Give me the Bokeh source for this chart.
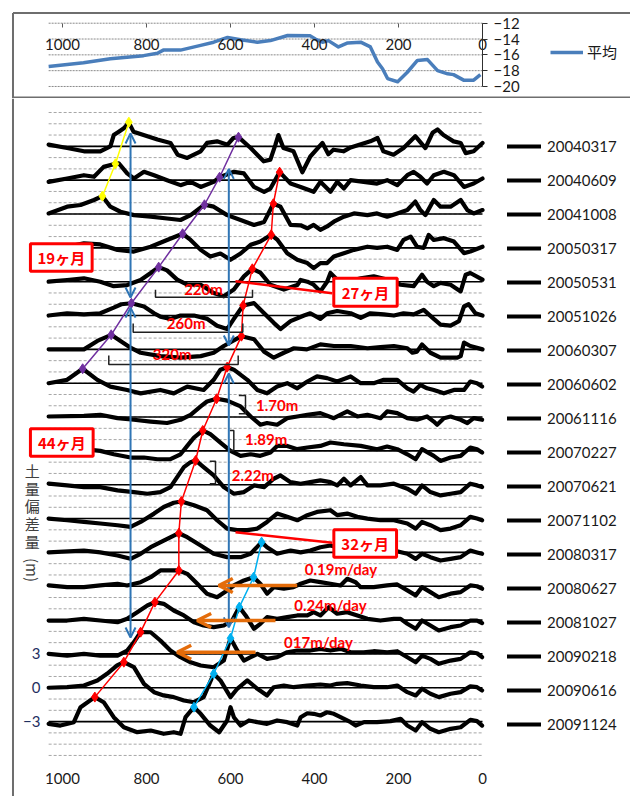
from math import pi
from bokeh.plotting import figure
from bokeh.models import Range1d, LinearAxis, FixedTicker, Legend, LegendItem, Arrow, OpenHead
from bokeh.layouts import column
from bokeh.embed import file_html
from bokeh.resources import INLINE
from bokeh.core.properties import value

# ---------------- data ----------------
dist_ticks = [0, 200, 400, 600, 800, 1000]

# top panel: mean elevation
avg_x = [1033, 950, 886, 807, 774, 760, 719, 671, 640, 607, 576, 536, 505, 464, 410, 398, 381, 367,
         343, 321, 290, 267, 250, 238, 226, 202, 179, 155, 131, 107, 83, 69, 45, 21, 5]
avg_y = [-17.46, -17.0, -16.5, -16.1, -15.8, -15.4, -15.4, -14.8, -14.4, -13.8, -14.1, -14.4, -14.2,
         -13.55, -13.6, -14.0, -14.4, -14.2, -15.0, -14.5, -14.4, -15.0, -16.9, -17.75, -19.0, -19.4,
         -18.2, -16.7, -16.6, -18.0, -18.4, -18.5, -19.2, -19.2, -18.5]
avg_ticks = [-20, -18, -16, -14, -12]

dates = ["20040317", "20040609", "20041008", "20050317", "20050531", "20051026", "20060307",
         "20060602", "20061116", "20070227", "20070621", "20071102", "20080317", "20080627",
         "20081027", "20090218", "20090616", "20091124"]
offsets = [48, 45, 42, 39, 36, 33, 30, 27, 24, 21, 18, 15, 12, 9, 6, 3, 0, -3]
y_ticks = [-3, 0, 3]

x01 = [1033,989,949,910,886,878,866,854,842,831,807,774,743,726,703,671,656,632,607,593,581,552,521,505,493,486,474,450,429,410,381,367,355,331,314,267,250,236,212,188,160,136,119,107,93,69,52,40,21,0]
d01 = [0.15,-0.15,-0.44,-0.44,0.0,1.0,1.3,1.6,2.1,1.3,1.0,0.6,0.3,-0.74,-1.03,-0.44,0.3,0.44,0.15,0.74,0.81,-0.15,-1.33,-1.18,0.15,1.0,-0.15,-0.44,-2.3,-0.9,0.3,-0.7,-0.3,-0.44,-0.1,0.44,0.74,-0.44,-0.74,-0.15,0.9,-0.15,1.2,1.5,1.0,0.44,0.3,-0.6,-0.44,0.3]
x02 = [1033,989,949,925,902,874,866,846,830,806,782,751,719,695,671,640,626,592,568,544,520,505,483,457,433,402,386,362,346,330,314,283,251,227,203,179,164,148,132,116,92,68,44,21,0]
d02 = [-0.15,0.15,0.44,0.3,1.18,1.45,1.5,0.6,0.15,0.74,0.44,0.0,-0.44,-0.15,-0.6,-0.15,0.26,0.74,0.6,-0.6,-1.03,-0.74,0.71,-0.3,-0.6,-1.03,-0.15,-1.03,-0.15,-0.74,0.0,-0.15,-0.3,0.0,-0.44,0.44,0.74,0.3,-0.3,0.44,0.74,0.44,-0.6,-0.3,0.15]
x03 = [1033,989,957,925,905,886,862,830,790,751,719,695,662,640,608,576,544,520,498,481,457,433,417,402,386,370,354,330,306,274,251,227,203,179,160,148,136,116,100,76,52,36,21,0]
d03 = [0.05,0.65,0.8,1.24,1.58,0.65,0.2,-0.1,-0.24,-0.4,-0.53,-0.1,0.82,0.65,-0.1,-0.53,-0.97,-0.7,0.91,0.65,-0.97,-1.0,-1.27,-0.97,-1.4,-1.1,-0.68,-0.24,0.05,-0.1,0.05,-0.24,0.05,0.35,1.1,0.35,-0.1,1.24,0.65,0.65,1.24,0.35,0.05,0.35]
x04 = [1033,989,949,910,869,830,790,751,714,695,671,648,624,600,576,552,529,503,488,465,441,417,402,386,370,354,330,306,274,251,227,203,188,171,156,140,128,116,92,68,44,29,0]
d04 = [-0.18,0.1,0.4,0.3,-0.18,-0.33,0.1,0.7,1.25,0.7,-0.18,-0.77,-0.5,-1.06,-0.5,0.27,0.56,1.16,0.7,-0.47,-1.06,-1.35,-1.8,-1.35,-1.35,-0.77,-0.47,-0.18,0.1,0.0,0.1,-0.18,0.7,1.0,0.1,0.0,1.15,0.7,0.86,0.56,-0.47,-0.33,0.1]
x05 = [1033,989,949,910,878,846,814,790,771,751,727,703,671,640,616,592,568,548,529,505,473,441,433,417,402,386,370,362,346,322,290,259,227,195,164,144,132,116,100,76,52,40,29,0]
d05 = [0.0,0.15,0.3,0.0,-0.4,-0.3,0.15,0.77,1.29,1.0,0.18,-0.27,-0.27,-1.0,-1.3,-0.7,0.47,1.14,0.8,-0.27,-0.7,-0.3,0.15,0.0,-0.27,-0.86,0.0,0.77,0.18,0.0,0.3,0.47,0.18,-0.27,-0.4,0.62,0.0,-0.4,-0.1,-0.27,-0.86,0.62,0.77,0.18]
x06 = [1033,989,949,910,878,860,836,806,782,767,743,719,687,655,632,608,592,570,544,520,497,481,457,425,410,386,370,346,314,290,267,235,211,188,164,140,116,100,76,56,44,33,17,0]
d06 = [0.0,0.2,0.1,0.2,0.7,1.0,1.09,0.8,0.2,-0.1,-0.3,0.0,0.0,-0.3,-0.9,-1.2,-0.3,0.89,1.1,0.2,-0.65,-1.2,-0.5,0.0,0.2,-0.3,0.2,0.4,0.2,-0.2,0.2,0.1,0.0,0.2,0.1,0.5,-0.3,-0.8,-0.9,-0.5,0.8,1.0,0.2,0.0]
x07 = [1033,949,917,884,862,836,814,767,719,671,640,616,574,544,520,497,473,449,418,386,354,314,274,243,211,179,167,156,144,124,100,76,60,52,44,29,0]
d07 = [0.0,0.0,0.75,1.29,0.75,0.1,-0.3,-0.6,-0.74,-0.6,-0.3,0.3,1.17,0.9,-0.2,-0.74,-0.3,0.1,0.0,0.44,0.3,0.3,0.1,0.2,0.3,0.1,-0.3,-0.2,0.44,-0.3,-0.74,-0.74,-0.74,-0.6,0.6,0.3,0.0]
x08 = [1033,989,952,917,886,846,814,767,735,703,664,640,624,608,592,560,536,513,489,465,441,417,394,370,346,314,290,259,235,203,179,164,148,132,116,92,68,44,29,13,1]
d08 = [0.0,0.3,1.28,0.3,-0.3,-0.6,-0.9,-0.6,-0.9,-0.3,-0.6,0.3,1.2,1.42,1.2,0.3,-0.6,-0.9,-0.3,0.0,-0.45,0.15,0.6,0.45,0.15,0.6,0.0,0.0,0.3,0.3,-0.45,-0.74,-0.15,-0.45,-0.6,-0.9,-0.6,-0.6,0.15,0.0,-0.3]
x09 = [1033,949,910,869,830,790,751,719,695,671,656,633,608,576,552,529,513,489,465,441,417,386,354,322,298,274,243,227,203,179,156,132,116,108,92,76,52,36,21,1]
d09 = [0.05,0.1,0.2,-0.1,-0.24,-0.4,-0.53,-0.24,0.2,0.94,1.38,1.62,1.45,0.94,0.05,-0.68,-0.53,-0.68,-0.1,0.05,0.2,0.35,-0.1,0.5,0.05,0.2,-0.1,0.5,0.35,-0.1,-0.24,0.05,-0.4,-0.68,-0.1,0.05,-0.24,-0.53,-0.1,-0.24]
x10 = [1033,949,910,878,838,806,774,743,719,703,687,666,648,624,600,576,552,529,505,489,465,441,417,386,362,330,290,251,227,203,179,159,144,116,100,76,52,29,13,1]
d10 = [0.0,0.15,0.0,-0.3,-0.59,-0.59,-0.74,-0.74,-0.3,0.44,1.18,1.81,1.48,0.74,0.0,-0.44,-0.3,-0.44,-0.15,0.44,0.44,0.15,0.3,0.44,0.74,0.59,0.44,0.15,0.39,0.15,-0.3,-0.74,0.15,-0.44,-0.89,-0.59,-0.44,0.3,0.15,-0.15]
x11 = [1033,989,949,910,869,830,798,767,743,727,711,695,683,664,640,616,592,568,544,520,497,481,457,433,410,386,362,346,330,314,290,274,243,211,179,159,144,124,100,76,52,29,13,1]
d11 = [0.09,-0.06,-0.21,-0.21,-0.5,-0.65,-0.8,-0.65,-0.21,0.68,1.56,2.0,2.15,1.56,0.82,-0.21,-0.8,-0.65,-0.06,-0.21,0.53,0.82,0.23,0.09,0.23,0.38,0.23,-0.06,0.53,-0.06,0.68,-0.06,-0.06,0.09,-0.35,-0.8,-0.06,-0.65,-0.95,-0.8,-0.65,0.09,-0.06,-0.21]
x12 = [1033,989,949,910,869,838,814,782,759,735,717,687,656,632,608,584,560,536,513,489,465,441,417,394,362,346,322,298,274,243,211,179,159,144,124,100,76,52,29,13,1]
d12 = [0.0,-0.15,-0.3,-0.44,-0.59,-0.74,-0.3,0.44,1.03,1.4,1.51,1.18,0.74,-0.15,-0.89,-1.03,-1.03,-0.89,-0.3,0.44,0.15,-0.15,0.3,0.59,0.74,0.3,0.44,0.15,0.0,-0.15,-0.15,-0.44,-0.89,-0.3,-0.59,-1.03,-0.89,-0.59,0.15,0.0,-0.15]
x13 = [1033,949,910,869,838,814,790,759,723,703,671,640,608,576,552,526,513,489,457,433,410,386,362,330,290,250,211,179,159,144,124,100,76,52,29,13,1]
d13 = [0.0,0.17,0.0,-0.27,-0.57,-0.12,0.46,1.05,1.7,1.35,0.61,-0.12,-0.42,-0.42,-0.12,0.91,0.46,-0.12,0.17,0.0,0.17,0.46,0.61,0.3,0.2,0.1,0.17,-0.12,-0.57,-0.12,-0.42,-0.72,-0.57,-0.42,0.17,0.0,-0.12]
x14 = [1033,989,949,910,869,846,814,790,767,723,703,679,656,632,608,592,568,545,529,513,497,473,450,433,410,386,362,338,322,302,290,259,227,203,179,159,144,124,104,76,52,29,13,1]
d14 = [0.07,-0.08,-0.08,0.07,0.22,0.07,0.36,0.8,1.4,1.4,1.1,0.22,-0.66,-0.97,-0.37,0.07,0.51,0.8,0.22,-0.66,-0.08,-0.22,-0.08,0.22,0.51,0.36,0.22,0.07,0.66,0.36,-0.08,-0.08,0.07,0.16,-0.37,-0.81,-0.08,-0.52,-0.97,-0.66,-0.52,0.07,0.0,-0.22]
x15 = [1033,989,949,910,869,846,822,798,780,759,735,711,687,664,640,616,596,579,564,544,529,513,489,465,441,417,402,386,366,346,322,298,274,243,211,195,179,159,144,124,104,76,52,29,13,1]
d15 = [-0.04,-0.04,0.11,-0.04,-0.19,0.11,0.7,1.29,1.59,1.44,0.85,0.41,-0.19,-0.48,-0.63,-0.48,-0.04,1.15,0.41,-0.77,-0.33,0.26,0.11,0.26,0.41,0.41,0.7,0.41,1.14,0.56,0.7,0.41,0.11,-0.04,0.11,0.11,-0.33,-0.77,-0.04,-0.48,-0.92,-0.63,-0.48,-0.04,-0.04,-0.27]
x16 = [1033,989,949,910,869,846,830,814,790,767,743,719,695,671,640,616,600,584,568,552,536,513,489,465,441,410,386,362,338,314,283,259,227,203,179,159,144,124,104,76,52,29,13,1]
d16 = [0.0,-0.15,0.0,-0.15,-0.15,0.3,1.04,1.93,1.92,1.19,0.3,-0.29,-0.74,-1.03,-1.18,-0.59,1.39,0.3,-0.59,-0.29,0.0,-0.44,-0.29,0.15,0.3,0.3,0.45,0.3,0.45,0.15,0.15,0.24,0.15,0.24,-0.29,-0.74,-0.15,-0.44,-0.88,-0.59,-0.44,0.15,0.06,-0.29]
x17 = [1033,989,949,917,894,870,854,830,806,782,759,735,711,687,664,640,624,600,584,560,536,513,497,473,449,417,386,362,346,322,290,259,227,203,179,159,144,124,104,76,52,29,13,1]
d17 = [0.0,0.05,0.2,0.65,1.24,1.98,2.27,1.83,0.35,-0.39,-0.68,-0.83,-1.13,-1.28,-0.83,1.24,0.65,-0.83,-0.09,0.65,-0.09,-0.68,0.05,0.2,0.05,0.2,0.29,0.2,0.35,0.41,0.2,0.05,0.05,0.2,-0.39,-0.68,-0.09,-0.53,-0.83,-0.53,-0.39,0.12,0.05,-0.24]
x18 = [1033,1005,973,957,923,902,878,854,822,790,759,735,719,707,687,671,648,627,608,600,592,576,556,536,513,489,465,441,433,417,402,386,370,354,338,314,302,282,251,219,195,179,159,144,124,104,76,52,29,13,1]
d18 = [-0.2,-0.35,-0.05,1.28,2.17,1.72,0.39,-0.5,-0.94,-0.79,-1.08,-0.94,-1.08,0.39,1.28,0.69,-0.35,-0.94,0.1,1.28,0.39,-0.35,0.1,-0.05,-0.2,0.1,-0.05,-0.35,0.39,0.74,0.69,0.54,0.83,0.69,0.39,-0.05,-0.35,-0.05,-0.05,0.04,0.25,-0.35,-0.79,-0.05,-0.64,-0.94,-0.64,-0.5,0.16,0.04,-0.35]

# tracked crest positions
yellow_x = [842, 874, 905]
yellow_v = [50.14, 46.45, 43.58]
purple_x = [581, 626, 662, 714, 771, 836, 884, 952]
purple_v = [48.81, 45.26, 42.82, 40.25, 37.29, 34.09, 31.29, 28.28]
red_x = [483, 498, 503, 548, 570, 574, 608, 633, 666, 683, 717, 723, 723, 780, 814, 854, 923]
red_v = [45.71, 42.91, 40.16, 37.14, 33.89, 31.17, 28.42, 25.62, 22.81, 20.15, 16.51, 13.70, 10.40,
         7.59, 4.93, 2.27, -0.83]
cyan_x = [526, 545, 579, 600, 640, 687]
cyan_v = [12.91, 9.80, 7.15, 4.39, 1.24, -1.72]

# annotation texts
dist_labels = ["220m", "260m", "320m"]
height_labels = ["1.70m", "1.89m", "2.22m"]
speed_labels = ["0.19m/day", "0.24m/day", "017m/day"]
month_labels = ["19ヶ月", "27ヶ月", "44ヶ月", "32ヶ月"]

# ---------------- layout constants ----------------
XL, XR = 1128.57, -352.38          # frame spans whole width right of the page margin
BORDER_X = 1117.86
W = 630
M = 8
BLUE = "#2F75B5"
ORANGE = "#E46C0A"
GRID = "#a6a6a6"
FONT = "Lato"

xs_all = [x01, x02, x03, x04, x05, x06, x07, x08, x09, x10, x11, x12, x13, x14, x15, x16, x17, x18]
ds_all = [d01, d02, d03, d04, d05, d06, d07, d08, d09, d10, d11, d12, d13, d14, d15, d16, d17, d18]
x_lo = max(max(x) for x in xs_all)
x_hi = 0

# ================= top panel =================
pA = figure(width=W, height=90 + M, x_range=Range1d(XL, XR), y_range=Range1d(-21.52, -10.14),
            output_backend="svg", toolbar_location=None, min_border=0,
            min_border_left=M, min_border_top=M,
            x_axis_location=None, y_axis_location=None)
pA.outline_line_color = None
pA.grid.visible = False

pA.segment(x0=[x_lo] * len(avg_ticks), y0=avg_ticks, x1=[x_hi] * len(avg_ticks), y1=avg_ticks,
           line_color="#8a8a8a", line_dash="2 1", line_width=1)
ravg = pA.line(avg_x, avg_y, line_color="#4A7EBB", line_width=3.5, line_join="round")

axA = LinearAxis(fixed_location=-12, ticker=FixedTicker(ticks=dist_ticks),
                 axis_line_color=None, major_tick_in=0, major_tick_out=4,
                 major_tick_line_color="#595959", minor_tick_line_color=None,
                 major_label_standoff=12, major_label_text_font=FONT,
                 major_label_text_font_size="15px", major_label_text_color="#1a1a1a")
pA.add_layout(axA, "below")
ayA = LinearAxis(fixed_location=0, bounds=(-20, -12), ticker=FixedTicker(ticks=avg_ticks),
                 axis_line_color="#303030", axis_line_width=1, major_tick_in=0, major_tick_out=5,
                 major_tick_line_color="#303030", minor_tick_line_color=None,
                 major_label_standoff=6, major_label_text_font=FONT,
                 major_label_text_font_size="15px", major_label_text_color="#1a1a1a")
pA.add_layout(ayA, "right")

legA = Legend(items=[LegendItem(label="平均", renderers=[ravg])], location=(542, 36),
              glyph_width=33, glyph_height=20, label_height=20, label_standoff=4,
              padding=0, margin=0, border_line_color=None, background_fill_alpha=0,
              label_text_font="Noto Sans CJK JP", label_text_font_size="15px",
              label_text_color="#1a1a1a")
pA.add_layout(legA)

for xs_, ys_ in [([BORDER_X, BORDER_X], [-10.71, -21.45]),
                 ([BORDER_X, XR], [-10.71, -10.71]),
                 ([BORDER_X, XR], [-21.40, -21.40])]:
    pA.line(xs_, ys_, line_color="#6e6e6e", line_width=2)

# ================= main panel =================
pB = figure(width=W, height=698, x_range=Range1d(XL, XR), y_range=Range1d(-9.64, 52.24),
            output_backend="svg", toolbar_location=None, min_border=0, min_border_left=M,
            x_axis_location=None, y_axis_location=None)
pB.outline_line_color = None
pB.grid.visible = False

minor_vals = list(range(-6, 52))
pB.segment(x0=[x_lo] * len(minor_vals), y0=minor_vals, x1=[x_hi] * len(minor_vals), y1=minor_vals,
           line_color=GRID, line_dash="3 2", line_width=1)
pB.segment(x0=[x_lo] * len(offsets), y0=offsets, x1=[x_hi] * len(offsets), y1=offsets,
           line_color="black", line_width=1.6)

items = []
for name, xs_, ds_, off in zip(dates, xs_all, ds_all, offsets):
    r = pB.line(xs_, [off + d for d in ds_], line_color="black", line_width=4.2,
                line_join="round", line_cap="round")
    items.append(LegendItem(label=name, renderers=[r]))

# vertical blue double arrows
for xa_, y0_, y1_ in [(838, 49.14, 34.6), (838, 33.7, 4.46), (604, 46.0, 30.34), (604, 27.86, 5.35)]:
    pB.add_layout(Arrow(x_start=xa_, y_start=y0_, x_end=xa_, y_end=y1_, line_color=BLUE, line_width=2,
                        start=OpenHead(size=10, line_color=BLUE, line_width=2),
                        end=OpenHead(size=10, line_color=BLUE, line_width=2)))

# crest tracking lines
for cx, cv, col in [(yellow_x, yellow_v, "#FFFF00"), (purple_x, purple_v, "#7030A0"),
                    (red_x, red_v, "#FF0000"), (cyan_x, cyan_v, "#00B0F0")]:
    pB.line(cx, cv, line_color=col, line_width=1.5)
    pB.scatter(cx, cv, marker="diamond", size=10, fill_color=col, line_color=col)

# brackets
br_xs = [[778.6, 778.6, 547.6, 547.6], [831.7, 831.7, 570.7, 570.7], [889.8, 889.8, 581.7, 581.7],
         [580.2, 564.3, 564.3, 580.2], [601.7, 592.1, 592.1, 601.7], [649.3, 635.7, 635.7, 649.3]]
br_ys = [[35.28, 34.63, 34.63, 35.28], [32.29, 31.52, 31.52, 32.29], [29.46, 28.66, 28.66, 29.46],
         [25.91, 25.91, 24.29, 24.29], [22.81, 22.81, 21.04, 21.04], [20.09, 20.09, 18.08, 18.08]]
pB.multi_line(br_xs, br_ys, line_color="#202020", line_width=1.5)

# orange speed arrows
for x0_, x1_, yv in [(441.2, 627.9, 9.07), (492.9, 679.3, 5.96), (540.5, 726.9, 3.15)]:
    pB.add_layout(Arrow(x_start=x0_, y_start=yv, x_end=x1_, y_end=yv, line_color=ORANGE, line_width=3.5,
                        end=OpenHead(size=14, line_color=ORANGE, line_width=3.5)))

# callout connector lines
pB.multi_line([[588.1, 357.9], [588.1, 357.9]], [[36.04, 34.98], [13.79, 12.85]],
              line_color="#FF0000", line_width=2.5)

# callout boxes
pB.rect(x=[1002.9, 278.6, 1001.7, 279.3], y=[38.15, 35.07, 21.74, 12.79],
        width=[146.9, 151.0, 149.3, 149.3], height=[2.43, 2.48, 2.43, 2.43],
        fill_color="white", line_color="#FF0000", line_width=3)
pB.text(x=[1002.9, 278.6, 1001.7, 279.3], y=[38.15, 35.07, 21.74, 12.79], text=month_labels,
        text_font=value("Noto Sans CJK JP"), text_font_style="bold", text_font_size=value("15px"),
        text_color="#FF0000", text_align="center", text_baseline="middle")

# red value labels
pB.text(x=[664.3, 705.5, 738.8, 488.8, 515.0, 546.9, 336.9, 361.9, 390.5],
        y=[35.32, 32.32, 29.55, 25.11, 22.01, 18.88, 10.49, 7.3, 4.1],
        text=dist_labels + height_labels + speed_labels,
        text_font=value(FONT), text_font_style="bold", text_font_size=value("15px"),
        text_color="#FF0000", text_align="center", text_baseline="middle")

# y-axis title (vertical writing)
pB.text(x=[1072], y=[16.12], text=["土\n量\n偏\n差\n量"], text_font=value("Noto Sans CJK JP"),
        text_font_size=value("15px"), text_line_height=0.85, text_color="#404040",
        text_align="center", text_baseline="middle")
pB.text(x=[1072], y=[10.44], text=["(m)"], angle=-pi / 2, text_font=value("Noto Sans CJK JP"),
        text_font_size=value("15px"), text_color="#404040", text_align="center", text_baseline="middle")

# axes
axB = LinearAxis(fixed_location=-6.71, ticker=FixedTicker(ticks=dist_ticks),
                 axis_line_color=None, major_tick_line_color=None, minor_tick_line_color=None,
                 major_label_standoff=4, major_label_text_font=FONT,
                 major_label_text_font_size="15px", major_label_text_color="#1a1a1a")
pB.add_layout(axB, "below")
ayB = LinearAxis(fixed_location=1028.6, ticker=FixedTicker(ticks=y_ticks),
                 axis_line_color=None, major_tick_line_color=None, minor_tick_line_color=None,
                 major_label_standoff=4, major_label_text_font=FONT,
                 major_label_text_font_size="15px", major_label_text_color="#1F2F5F")
pB.add_layout(ayB, "left")

legB = Legend(items=items, location=(499, 62), orientation="vertical",
              glyph_width=34, glyph_height=20, label_height=20, spacing=14, label_standoff=6,
              padding=0, margin=0, border_line_color=None, background_fill_alpha=0,
              label_text_font=FONT, label_text_font_size="15px", label_text_color="#1a1a1a")
pB.add_layout(legB)

pB.line([BORDER_X, BORDER_X], [52.24, -9.64], line_color="#6e6e6e", line_width=2)

layout = column(pA, pB)
open("out.html", "w").write(file_html(layout, INLINE))
